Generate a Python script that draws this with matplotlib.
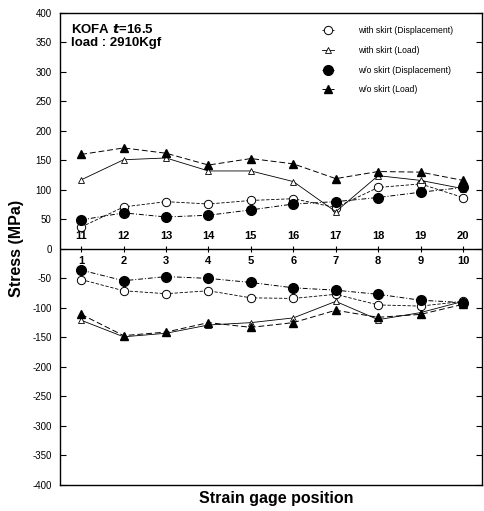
import matplotlib.pyplot as plt
import numpy as np

plt.rcParams['font.family'] = ['Liberation Sans', 'DejaVu Sans']
plt.rcParams['axes.unicode_minus'] = False

# gage positions: 1-10 below zero line, 11-20 above (same x slot)
slots = np.arange(1, 11)
upper_labels = [str(i) for i in range(11, 21)]
lower_labels = [str(i) for i in range(1, 11)]

# upper half, gages 11-20
up_ws_disp = [37, 71, 80, 76, 82, 85, 70, 104, 110, 87]
up_ws_load = [117, 151, 154, 132, 132, 114, 63, 124, 116, 102]
up_wo_disp = [49, 61, 54, 57, 66, 76, 80, 87, 96, 104]
up_wo_load = [160, 171, 162, 142, 153, 144, 119, 131, 130, 116]

# lower half, gages 1-10
lo_ws_disp = [-52, -71, -76, -71, -83, -84, -77, -95, -97, -89]
lo_ws_load = [-121, -149, -143, -129, -125, -117, -89, -120, -108, -89]
lo_wo_disp = [-36, -54, -47, -50, -57, -66, -70, -77, -87, -91]
lo_wo_load = [-111, -147, -141, -125, -133, -125, -104, -116, -111, -94]

series_names = ["with skirt (Displacement)", "with skirt (Load)",
                "w/o skirt (Displacement)", "w/o skirt (Load)"]

fig = plt.figure(figsize=(4.84, 5.11), dpi=100)
ax = fig.add_axes([0.124, 0.051, 0.872, 0.924])

styles = [
    dict(marker='o', ms=6, mfc='white', mec='black', mew=0.7, ls=(0, (4, 2)), lw=0.6),
    dict(marker='^', ms=4, mfc='white', mec='black', mew=0.6, ls='-', lw=0.6),
    dict(marker='o', ms=7, mfc='black', mec='black', ls=(0, (5, 2, 1, 2)), lw=0.7),
    dict(marker='^', ms=6, mfc='black', mec='black', ls=(0, (6, 3)), lw=0.7),
]
ups = [up_ws_disp, up_ws_load, up_wo_disp, up_wo_load]
los = [lo_ws_disp, lo_ws_load, lo_wo_disp, lo_wo_load]

for name, st, u, l in zip(series_names, styles, ups, los):
    ax.plot(slots, u, color='black', label=name, **st)
    ax.plot(slots, l, color='black', **st)

# zero line with small ticks at each gage slot
ax.axhline(0, color='black', lw=1.0)
ax.plot(slots, np.zeros(len(slots)), ls='none', marker='|', ms=5, color='black', mew=0.8)
for x, t in zip(slots, upper_labels):
    ax.text(x, 13, t, ha='center', va='bottom', fontsize=8, fontweight='bold')
for x, t in zip(slots, lower_labels):
    ax.text(x, -12, t, ha='center', va='top', fontsize=8, fontweight='bold')

ax.set_xlim(0.5, 10.45)
ax.set_ylim(-400, 400)
ax.set_yticks(np.arange(-400, 401, 50))
ax.set_xticks([])
ax.tick_params(axis='y', direction='in', length=4, width=0.8, right=True,
               labelsize=7, pad=6)
for s in ax.spines.values():
    s.set_linewidth(1.0)

ax.set_ylabel("Stress (MPa)", fontsize=11.5, fontweight='bold', labelpad=6)
fig.text(0.57, 0.025, "Strain gage position", ha='center', va='center',
         fontsize=11.5, fontweight='bold')

ax.text(0.025, 0.965, "KOFA $\\mathbfit{t}$=16.5", transform=ax.transAxes,
        fontsize=9.5, fontweight='bold', va='center')
ax.text(0.025, 0.937, "load : 2910Kgf", transform=ax.transAxes,
        fontsize=9.5, fontweight='bold', va='center')

ax.legend(loc='upper left', bbox_to_anchor=(0.62, 0.972), frameon=False,
          borderaxespad=0, borderpad=0,
          fontsize=6.2, handlelength=1.4, labelspacing=1.25, handletextpad=2.8)

fig.savefig("out.png", dpi=100)
